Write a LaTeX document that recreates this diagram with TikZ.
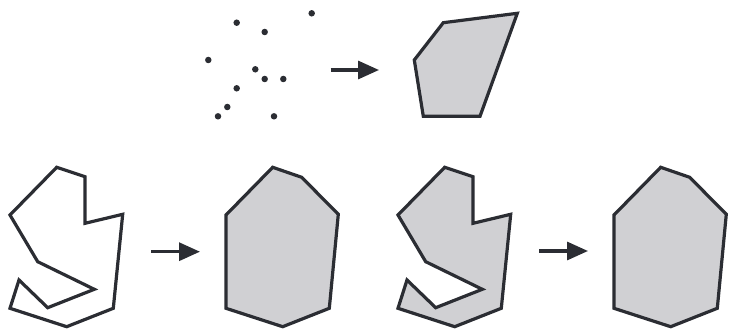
\documentclass[tikz,border=0pt]{standalone}
\usepackage{tikz}
\usepackage{xcolor}
\usetikzlibrary{arrows.meta}

\definecolor{ink}{HTML}{2B2D33}
\definecolor{shade}{HTML}{D0D0D3}

\begin{document}
\begin{tikzpicture}[
      x=1pt, y=-1pt,
      pt/.style={circle, fill=ink, inner sep=0pt, minimum size=6.5pt},
      poly/.style={draw=ink, line width=3.2pt},
      hull/.style={draw=ink, fill=shade, line width=3.2pt},
      arr/.style={-{Triangle[length=21pt, width=18pt]}, draw=ink, line width=3.2pt}
  ]
    \useasboundingbox (0,0) rectangle (732,329);
    % point set
    \node[pt] (p1) at (311.7,13.3) {};
    \node[pt] (p2) at (236.7,22.7) {};
    \node[pt] (p3) at (264.7,32) {};
    \node[pt] (p4) at (208.3,60) {};
    \node[pt] (p5) at (255.3,69.3) {};
    \node[pt] (p6) at (264.7,79) {};
    \node[pt] (p7) at (283.3,79) {};
    \node[pt] (p8) at (236.7,88.3) {};
    \node[pt] (p9) at (227.3,107) {};
    \node[pt] (p10) at (218,116.3) {};
    \node[pt] (p11) at (274,116.3) {};
    \coordinate (a1s) at (330.7,70);
    \coordinate (a1e) at (379,70);
    \draw[arr] (a1s) -- (a1e);
    \draw[hull] (443.3,22.7) -- (517.3,13.3) -- (480,116.3) -- (423.3,116.3) -- (414.3,60) -- cycle;
    % open polygon
    \draw[poly] (56.7,167.3) -- (85,176.7) -- (85,223.3) -- (122.7,214.3) -- (113.3,308.3)
      -- (66.7,326.7) -- (10,308.3) -- (19,280) -- (47.7,307.7) -- (94.3,289.3)
      -- (37.7,261.7) -- (10,215) -- cycle;
    \coordinate (a2s) at (151,251.7);
    \coordinate (a2e) at (200,251.7);
    \draw[arr] (a2s) -- (a2e);
    \draw[hull] (272.7,167.3) -- (301.7,177.3) -- (338.3,214.3) -- (329.3,308.3)
      -- (282.7,326.7) -- (226,308.3) -- (226,215) -- cycle;
    % filled polygon
    \begin{scope}[xshift=388pt]
      \draw[hull] (56.7,167.3) -- (85,176.7) -- (85,223.3) -- (122.7,214.3) -- (113.3,308.3)
        -- (66.7,326.7) -- (10,308.3) -- (19,280) -- (47.7,307.7) -- (94.3,289.3)
        -- (37.7,261.7) -- (10,215) -- cycle;
    \end{scope}
    \coordinate (a3s) at (539.3,251);
    \coordinate (a3e) at (588,251);
    \draw[arr] (a3s) -- (a3e);
    \begin{scope}[xshift=388pt]
      \draw[hull] (272.7,167.3) -- (301.7,177.3) -- (338.3,214.3) -- (329.3,308.3)
        -- (282.7,326.7) -- (226,308.3) -- (226,215) -- cycle;
    \end{scope}
  \end{tikzpicture}
\end{document}
